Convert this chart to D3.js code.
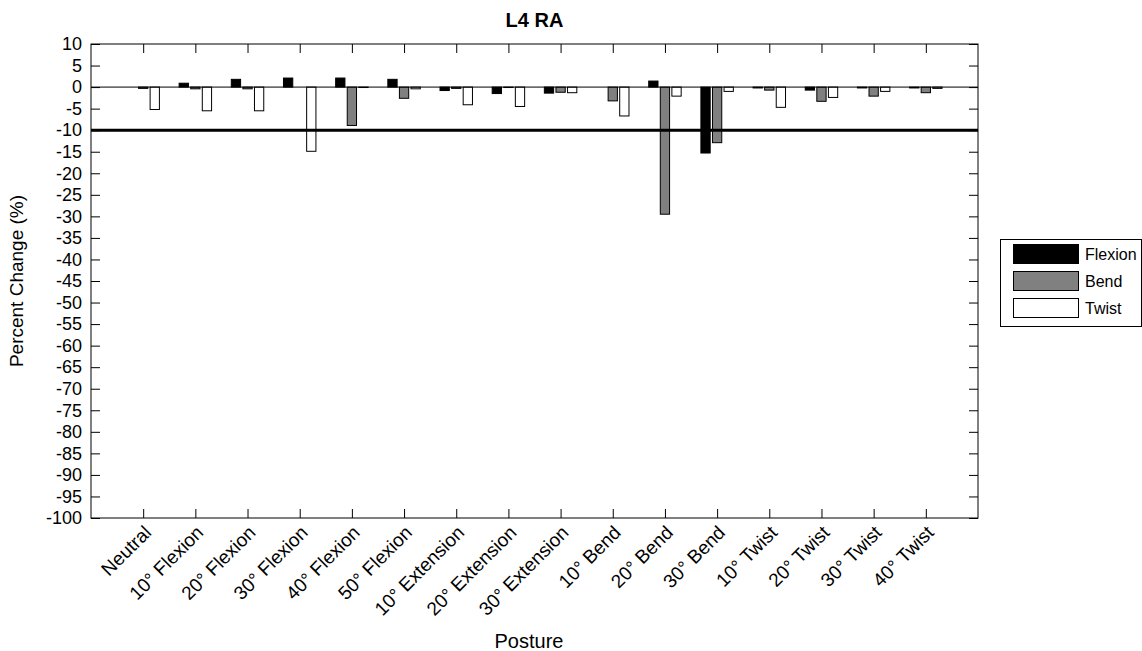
<!DOCTYPE html>
<html>
<head>
<meta charset="utf-8">
<script src="https://cdn.jsdelivr.net/npm/d3@7"></script>
<style>
  body { margin: 0; background: #fff; }
  text { font-family: 'Liberation Sans', Arial, sans-serif; fill: #000; }
</style>
</head>
<body>
<svg id="chart" width="1142" height="651"></svg>
<script>
const categories = ['Neutral', '10° Flexion', '20° Flexion', '30° Flexion', '40° Flexion', '50° Flexion',
    '10° Extension', '20° Extension', '30° Extension', '10° Bend', '20° Bend', '30° Bend',
    '10° Twist', '20° Twist', '30° Twist', '40° Twist'];

const flexion = [0, 0.9, 1.8, 2.1, 2.1, 1.8, -0.8, -1.5, -1.4, 0, 1.4, -15.3, -0.2, -0.7, -0.2, -0.2];
const bend    = [-0.3, -0.4, -0.4, 0, -8.9, -2.6, -0.3, -0.1, -1.2, -3.2, -29.5, -12.9, -0.7, -3.3, -2.1, -1.3];
const twist   = [-5.2, -5.5, -5.5, -14.9, -0.1, -0.4, -4.1, -4.5, -1.3, -6.7, -2.1, -1.0, -4.7, -2.4, -1.0, -0.3];

const seriesNames = ['Flexion', 'Bend', 'Twist'];
const seriesColors = ['#000000', '#808080', '#ffffff'];
const yTicks = d3.range(-100, 11, 5);
const threshold = -10;

const svg = d3.select('#chart');

function setBackground(svg, width, height, color) {
    svg.append('rect')
        .attr('x', 0)
        .attr('y', 0)
        .attr('width', width)
        .attr('height', height)
        .attr('fill', color);
}

setBackground(svg, 1142, 651, '#fff');

const plot = { left: 91, right: 978, top: 44, bottom: 518 };

const xScale = d3.scaleLinear().domain([0, categories.length + 1]).range([plot.left, plot.right]);
const yScale = d3.scaleLinear().domain([-100, 10]).range([plot.bottom, plot.top]);

const tickLen = 9;

// bars (grouped like matlab bar())
const series = [flexion, bend, twist];
const slot = 0.222;
const barW = 0.178;

series.forEach((vals, s) => {
    svg.append('g')
        .selectAll('rect')
        .data(vals)
        .join('rect')
        .attr('x', (d, i) => xScale(i + 1 + (s - 1) * slot - barW / 2))
        .attr('width', xScale(barW) - xScale(0))
        .attr('y', d => yScale(Math.max(0, d)))
        .attr('height', d => Math.abs(yScale(d) - yScale(0)))
        .attr('fill', seriesColors[s])
        .attr('stroke', '#000')
        .attr('stroke-width', 1);
});

// zero line
svg.append('line')
    .attr('x1', plot.left).attr('x2', plot.right)
    .attr('y1', yScale(0)).attr('y2', yScale(0))
    .attr('stroke', '#000').attr('stroke-width', 1);

// threshold line
svg.append('line')
    .attr('x1', plot.left).attr('x2', plot.right)
    .attr('y1', yScale(threshold)).attr('y2', yScale(threshold))
    .attr('stroke', '#000').attr('stroke-width', 3);

// axes
const tickIdx = d3.range(1, categories.length + 1);

const yAxis = svg.append('g')
    .attr('transform', `translate(${plot.left},0)`)
    .call(d3.axisLeft(yScale).tickValues(yTicks).tickSizeInner(-tickLen).tickSizeOuter(0).tickPadding(9)
        .tickFormat(d => String(d)));
yAxis.selectAll('text').style('font-size', '18px');

svg.append('g')
    .attr('transform', `translate(${plot.right},0)`)
    .call(d3.axisRight(yScale).tickValues(yTicks).tickSizeInner(-tickLen).tickSizeOuter(0).tickFormat(''));

svg.append('g')
    .attr('transform', `translate(0,${plot.top})`)
    .call(d3.axisTop(xScale).tickValues(tickIdx).tickSizeInner(-tickLen).tickSizeOuter(0).tickFormat(''));

const xAxis = svg.append('g')
    .attr('transform', `translate(0,${plot.bottom})`)
    .call(d3.axisBottom(xScale).tickValues(tickIdx).tickSizeInner(-tickLen).tickSizeOuter(0)
        .tickFormat(d => categories[d - 1]));

xAxis.selectAll('text')
    .attr('x', 0)
    .attr('y', 0)
    .attr('dy', '0.35em')
    .attr('text-anchor', 'end')
    .attr('transform', 'translate(4,11) rotate(-45)')
    .style('font-size', '19px');

svg.selectAll('.domain').remove();
svg.selectAll('.tick line').attr('stroke', '#000');

// box
svg.append('rect')
    .attr('x', plot.left).attr('y', plot.top)
    .attr('width', plot.right - plot.left).attr('height', plot.bottom - plot.top)
    .attr('fill', 'none').attr('stroke', '#000').attr('stroke-width', 1);

// titles
svg.append('text')
    .attr('x', (plot.left + plot.right) / 2).attr('y', 27)
    .attr('text-anchor', 'middle')
    .style('font-size', '20px').style('font-weight', 'bold')
    .text('L4 RA');

svg.append('text')
    .attr('x', 529).attr('y', 648)
    .attr('text-anchor', 'middle')
    .style('font-size', '20px')
    .text('Posture');

svg.append('text')
    .attr('transform', `translate(23,${(plot.top + plot.bottom) / 2}) rotate(-90)`)
    .attr('text-anchor', 'middle')
    .style('font-size', '19px')
    .text('Percent Change (%)');

// legend
const legend = svg.append('g');
legend.append('rect')
    .attr('x', 1000.5).attr('y', 239.5).attr('width', 141).attr('height', 87)
    .attr('fill', '#fff').attr('stroke', '#000');

seriesNames.forEach((name, i) => {
    const cy = 254 + i * 27;
    legend.append('rect')
        .attr('x', 1013.5).attr('y', cy - 9.5).attr('width', 65).attr('height', 19)
        .attr('fill', seriesColors[i]).attr('stroke', '#000');
    legend.append('text')
        .attr('x', 1085).attr('y', cy).attr('dy', '0.36em')
        .style('font-size', '16px')
        .text(name);
});
</script>
</body>
</html>
